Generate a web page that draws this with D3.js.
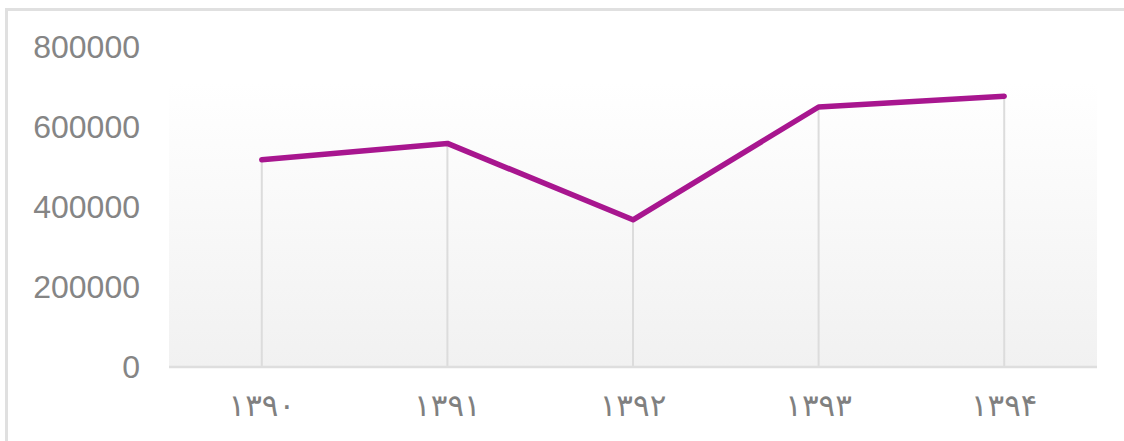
<!DOCTYPE html>
<html>
<head>
<meta charset="utf-8">
<style>
  html, body { margin: 0; padding: 0; background: #fff; }
  svg { display: block; }
</style>
<script src="https://cdn.jsdelivr.net/npm/d3@7"></script>
</head>
<body>
<div id="chart"></div>
<script>
// data
var years = ["۱۳۹۰", "۱۳۹۱", "۱۳۹۲", "۱۳۹۳", "۱۳۹۴"];
var values = [518000, 559000, 368000, 650000, 677000];
var yTicks = [0, 200000, 400000, 600000, 800000];

var width = 1124,
    height = 441,
    margin = {top: 47, right: 27, bottom: 74, left: 169};

var svg = d3.select("#chart").append("svg")
    .attr("width", width)
    .attr("height", height);

// outer frame, only left and top edges fall inside the window
svg.append("rect")
    .attr("x", 6.5).attr("y", 9.5)
    .attr("width", width + 20).attr("height", height + 20)
    .attr("fill", "none")
    .attr("stroke", "#e0e0e0")
    .attr("stroke-width", 3);

var x = d3.scaleBand()
    .domain(years)
    .range([margin.left, width - margin.right]);

var y = d3.scaleLinear()
    .domain([0, 800000])
    .range([height - margin.bottom, margin.top]);

var defs = svg.append("defs");
var grad = defs.append("linearGradient")
    .attr("id", "bg")
    .attr("x1", 0).attr("y1", 0).attr("x2", 0).attr("y2", 1);
grad.append("stop").attr("offset", "0%").attr("stop-color", "#ffffff");
grad.append("stop").attr("offset", "100%").attr("stop-color", "#f1f1f1");

// plot background starts a little above the highest point
var bgTop = y(d3.max(values)) - 13;
svg.append("rect")
    .attr("x", margin.left)
    .attr("y", bgTop)
    .attr("width", width - margin.right - margin.left)
    .attr("height", y(0) - bgTop)
    .attr("fill", "url(#bg)");

// drop lines
svg.selectAll("line.drop")
    .data(values)
    .enter().append("line")
    .attr("class", "drop")
    .attr("x1", function(d, i) { return x(years[i]) + x.bandwidth() / 2; })
    .attr("x2", function(d, i) { return x(years[i]) + x.bandwidth() / 2; })
    .attr("y1", function(d) { return y(d); })
    .attr("y2", y(0))
    .attr("stroke", "#dcdcdc")
    .attr("stroke-width", 2);

// baseline
svg.append("line")
    .attr("x1", margin.left).attr("x2", width - margin.right)
    .attr("y1", y(0)).attr("y2", y(0))
    .attr("stroke", "#dedede")
    .attr("stroke-width", 2.5);

// y labels
var yAxis = svg.append("g")
    .attr("transform", "translate(140,0)")
    .call(d3.axisLeft(y).tickValues(yTicks).tickSize(0).tickPadding(0).tickFormat(d3.format("d")));
yAxis.select(".domain").remove();
yAxis.selectAll("text")
    .attr("fill", "#858585")
    .style("font-family", "'Liberation Sans', Arial, sans-serif")
    .style("font-size", "32px");

// x labels
var xAxis = svg.append("g")
    .attr("transform", "translate(0," + y(0) + ")")
    .call(d3.axisBottom(x).tickSize(0).tickPadding(27));
xAxis.select(".domain").remove();
xAxis.selectAll("text")
    .attr("fill", "#808080")
    .style("font-family", "'DejaVu Sans', sans-serif")
    .style("font-size", "31px");

// the series line
var line = d3.line()
    .x(function(d, i) { return x(years[i]) + x.bandwidth() / 2; })
    .y(function(d) { return y(d); });

svg.append("path")
    .datum(values)
    .attr("d", line)
    .attr("fill", "none")
    .attr("stroke", "#a8168f")
    .attr("stroke-width", 5.5)
    .attr("stroke-linejoin", "round")
    .attr("stroke-linecap", "round");
</script>
</body>
</html>
